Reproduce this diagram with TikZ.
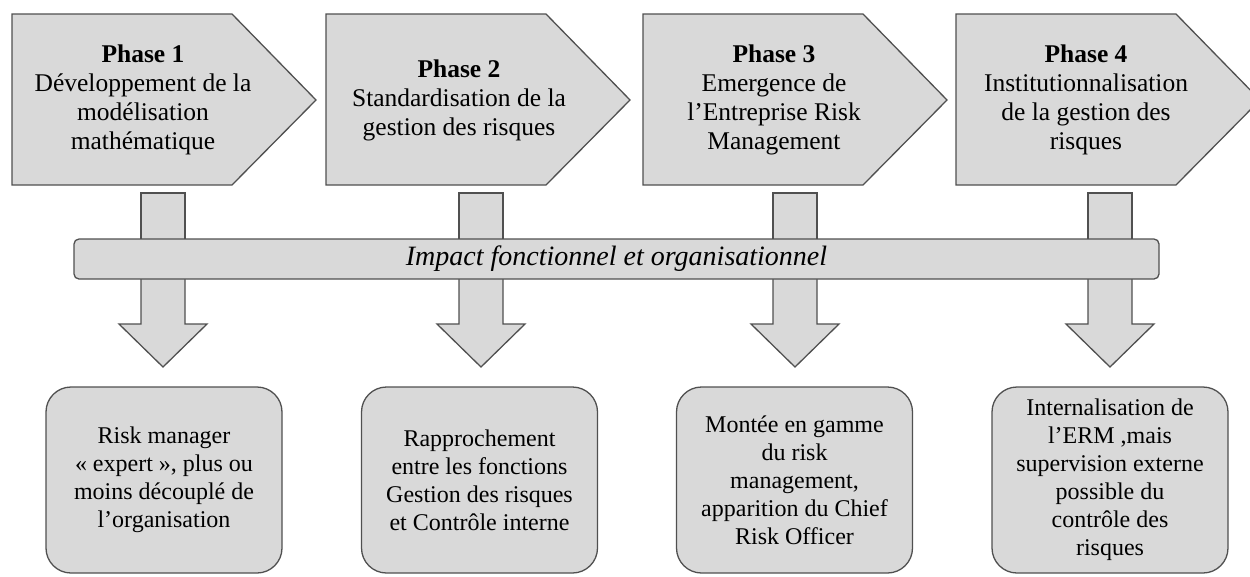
\documentclass[tikz,border=0pt]{standalone}
\usepackage{fontspec}
\setmainfont{Liberation Serif}
\definecolor{boxgray}{RGB}{217,217,217}
\definecolor{edgegray}{RGB}{80,80,80}
\begin{document}
\begin{tikzpicture}[x=1pt,y=-1pt,inner sep=0pt,outer sep=0pt,line width=1.3pt,
shapeline/.style={draw=edgegray,fill=boxgray,line join=miter},
phasetext/.style={align=center,font=\fontsize{25.5}{29}\selectfont},
barbox/.style={draw=edgegray,fill=boxgray,rectangle,rounded corners=5pt,minimum width=1085pt,minimum height=40pt,font=\fontsize{28}{30}\selectfont\itshape},
resbox/.style={draw=edgegray,fill=boxgray,rectangle,rounded corners=25pt,minimum width=236pt,minimum height=186pt,align=center,font=\fontsize{24}{28}\selectfont}]

\useasboundingbox (0,0) rectangle (1250,576);

% phases
\foreach \xl in {12,326,643,956}
  \draw[shapeline] (\xl,14) -- ++(220,0) -- ++(84,86) -- ++(-84,85) -- ++(-220,0) -- cycle;

\draw (143,100) node[phasetext] (ph1) {\textbf{Phase 1}\\Développement de la\\modélisation\\mathématique};
\draw (459,100) node[phasetext] (ph2) {\textbf{Phase 2}\\Standardisation de la\\gestion des risques};
\draw (774,100) node[phasetext] (ph3) {\textbf{Phase 3}\\Emergence de\\l’Entreprise Risk\\Management};
\draw (1086,100) node[phasetext] (ph4) {\textbf{Phase 4}\\Institutionnalisation\\de la gestion des\\risques};

% stems and arrows
\foreach \xs in {163,481,795,1110} {
  \draw[shapeline] (\xs-22,193) rectangle (\xs+22,241);
  \draw[shapeline] (\xs-22,277) -- (\xs-22,324) -- (\xs-44,324) -- (\xs,367) -- (\xs+44,324) -- (\xs+22,324) -- (\xs+22,277);
}

\draw (616.5,259) node[barbox] (impact) {Impact fonctionnel et organisationnel};

% results
\draw (164,480) node[resbox] (res1) {Risk manager\\« expert », plus ou\\moins découplé de\\l’organisation};
\draw (479.5,480) node[resbox] (res2) {Rapprochement\\entre les fonctions\\Gestion des risques\\et Contrôle interne};
\draw (794.5,480) node[resbox] (res3) {Montée en gamme\\du risk\\management,\\apparition du Chief\\Risk Officer};
\draw (1110,480) node[resbox] (res4) {Internalisation de\\l’ERM ,mais\\supervision externe\\possible du\\contrôle des\\risques};

\end{tikzpicture}
\end{document}
